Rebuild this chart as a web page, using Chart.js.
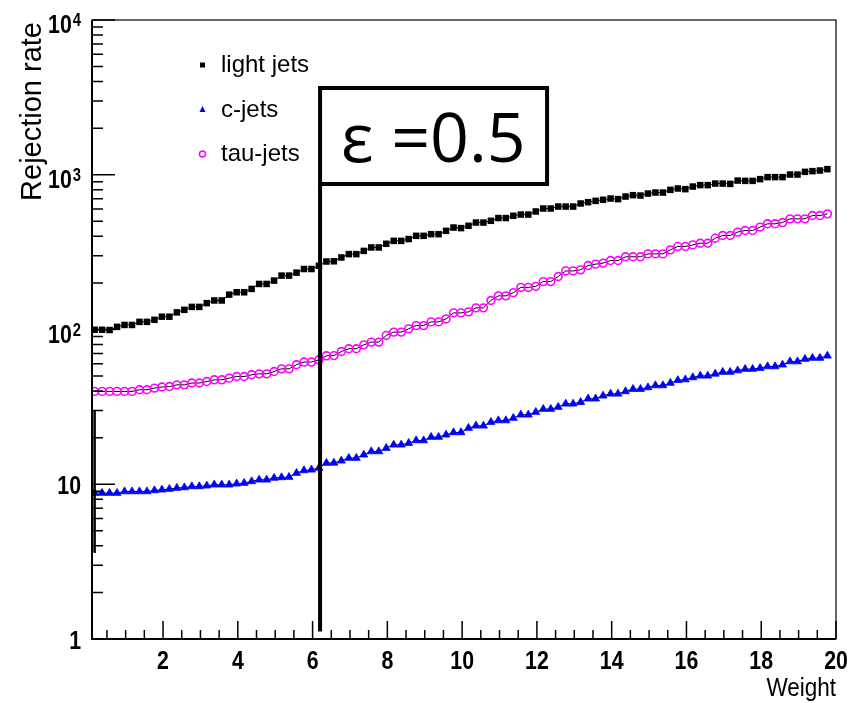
<!DOCTYPE html>
<html>
<head>
<meta charset="utf-8">
<script src="https://cdn.jsdelivr.net/npm/chart.js@4/dist/chart.umd.min.js"></script>
<style>
  html, body { margin: 0; padding: 0; background: #fff; }
  canvas { display: block; }
</style>
</head>
<body>
<canvas id="chart" width="853" height="703"></canvas>
<script>
// rejection rate per weight bin
const lightJets = [
  99.6, 99.6, 99.2, 104, 107, 107, 112, 112, 115.5, 121, 121, 129, 134, 140, 140, 148, 154, 154,
  168, 174, 174, 183, 197, 197, 207, 223, 223, 233, 246, 246, 258, 275, 276,
  292, 307, 307, 322, 339, 339, 358, 374, 374, 384, 403, 403, 413, 413, 434, 456, 452, 468,
  491, 491, 504, 525, 525, 543, 553, 553, 579, 605, 605, 623, 623, 623,
  652, 665, 678, 689, 702, 696, 723, 738, 734, 756, 767, 767, 799, 815, 807, 839, 857, 857,
  877, 877, 873, 917, 913, 913, 937, 965, 965, 965, 1003, 1003, 1044, 1055, 1065, 1087
];
const cJets = [
  8.77, 8.77, 8.77, 8.77, 8.98, 8.98, 8.98, 8.98, 9.12, 9.21, 9.31, 9.45, 9.53, 9.68, 9.68, 9.78,
  9.93, 9.93, 9.93, 10.08, 10.18, 10.43, 10.69, 10.69, 10.97, 11.07, 11.13, 11.81, 12.28, 12.41,
  12.73, 13.71, 13.75,
  14.18, 14.77, 14.77, 15.51, 16.29, 16.29, 17.13, 17.99, 17.99, 18.45, 19.18, 19.18, 20.18, 20.18,
  20.88, 21.61, 21.61, 23.07, 23.87, 23.87, 25.22, 25.83, 25.83, 26.77, 28.12, 28.12, 29.27,
  30.61, 30.61, 31.53, 33.11, 33.11, 33.9,
  35.7, 35.7, 37.3, 38.4, 38.4, 39.8, 41.2, 41.2, 42.2, 43.5, 43.5, 45.1,
  47, 47.5, 49, 50.2, 50.2, 51.7, 53.1, 53.1, 54.3, 55.5, 55.5, 56.3, 57.7, 57.7, 59.2, 62.1,
  62.1, 64.4, 65.4, 65.4, 67.6
];
const tauJets = [
  39.8, 39.8, 39.8, 39.8, 39.8, 39.8, 40.8, 40.8, 41.8, 42.5, 42.8, 43.9, 43.9, 45.1, 45.1, 46.1,
  47.3, 47.3, 48.5, 49.7, 49.7, 51.0, 51.7, 51.7, 53.5, 55.7, 55.7, 59.2, 61.6, 61.6, 63.7, 67.6, 67.8,
  72.1, 75.1, 75.1, 79.6, 82.9, 82.9, 91.5, 96.2, 96.2, 101, 106, 106, 112, 112, 117, 128, 128,
  130, 138, 138, 154, 165, 165, 173, 187, 187, 190, 204, 204, 220, 239, 239, 243,
  259, 264.5, 268.5, 279, 279, 295, 295, 295, 308, 308, 308, 327, 344, 344, 352, 361, 361, 389,
  405, 405, 426, 436, 436, 459, 482, 482, 491, 519, 519, 519, 545, 545, 559
];
// histogram bin centres (0.2 wide bins)
const weights = lightJets.map((_, i) => Math.round((0.17 + 0.2 * i) * 100) / 100);

// error bar on the first c-jets bin (low, high)
const cJetsFirstErr = [3.6, 30];

const xTickValues = [2, 4, 6, 8, 10, 12, 14, 16, 18, 20];
const yTickValues = [1, 10, 100, 1000, 10000];
const yTickBase = ['1', '10', '10', '10', '10'];
const yTickExp = ['', '', '2', '3', '4'];

const legendLabels = ['light jets', 'c-jets', 'tau-jets'];
const xTitle = 'Weight';
const yTitle = 'Rejection rate';
const cutWeight = 6.2;
const cutLow = 1.12;
const effLabel = 'ε =0.5';

const FONT = "'Liberation Sans', Arial, Helvetica, sans-serif";

function drawText(ctx, text, x, y, font, align, sx) {
  ctx.save();
  ctx.translate(x, y);
  ctx.scale(sx, 1);
  ctx.font = font;
  ctx.textAlign = align;
  ctx.textBaseline = 'alphabetic';
  ctx.fillStyle = '#000';
  ctx.fillText(text, 0, 0);
  ctx.restore();
}

function drawMarker(ctx, style, x, y, s) {
  ctx.save();
  ctx.beginPath();
  if (style === 'rect') {
    ctx.fillStyle = '#000';
    ctx.fillRect(x - s / 2, y - s / 2, s, s);
  } else if (style === 'triangle') {
    ctx.fillStyle = '#0000ff';
    ctx.moveTo(x, y - s * 0.6);
    ctx.lineTo(x + s / 2, y + s * 0.4);
    ctx.lineTo(x - s / 2, y + s * 0.4);
    ctx.closePath();
    ctx.fill();
  } else {
    ctx.strokeStyle = '#ff00ff';
    ctx.lineWidth = 1.5;
    ctx.arc(x, y, s / 2, 0, Math.PI * 2);
    ctx.stroke();
  }
  ctx.restore();
}

const rootFrame = {
  id: 'rootFrame',
  afterDatasetsDraw(chart) {
    const { ctx, chartArea: a, scales } = chart;
    const xs = scales.x;
    const ys = scales.y;
    ctx.save();
    ctx.strokeStyle = '#000';
    ctx.lineCap = 'butt';

    // frame
    ctx.lineWidth = 1.2;
    ctx.strokeRect(a.left, a.top, a.right - a.left, a.bottom - a.top);
    ctx.lineWidth = 2;
    ctx.beginPath();
    ctx.moveTo(a.left, a.top);
    ctx.lineTo(a.left, a.bottom);
    ctx.lineTo(a.right, a.bottom);
    ctx.stroke();

    // y ticks (log, inward)
    ctx.lineWidth = 1.5;
    ctx.beginPath();
    for (let d = 0; d < yTickValues.length; d++) {
      const base = yTickValues[d];
      const py = ys.getPixelForValue(base);
      ctx.moveTo(a.left, py);
      ctx.lineTo(a.left + 23, py);
      if (d < yTickValues.length - 1) {
        for (let m = 2; m <= 9; m++) {
          const my = ys.getPixelForValue(base * m);
          ctx.moveTo(a.left, my);
          ctx.lineTo(a.left + 11, my);
        }
      }
    }
    // x ticks
    for (let v = 0.5; v <= 20.001; v += 0.5) {
      const px = xs.getPixelForValue(v);
      const major = Math.abs(v / 2 - Math.round(v / 2)) < 1e-6;
      ctx.moveTo(px, a.bottom);
      ctx.lineTo(px, a.bottom - (major ? 18 : 9));
    }
    ctx.stroke();

    // first-bin error bar
    const ex = xs.getPixelForValue(weights[0]);
    ctx.lineWidth = 2.5;
    ctx.beginPath();
    ctx.moveTo(ex, ys.getPixelForValue(cJetsFirstErr[0]));
    ctx.lineTo(ex, ys.getPixelForValue(cJetsFirstErr[1]));
    ctx.stroke();

    // x tick labels
    xTickValues.forEach((v) => {
      const px = xs.getPixelForValue(v);
      drawText(ctx, String(v), px, a.bottom + 30, 'bold 26px ' + FONT, 'center', 0.82);
    });

    // y tick labels with exponents
    const labelRight = a.left - 11;
    yTickValues.forEach((v, i) => {
      const py = ys.getPixelForValue(v);
      if (yTickExp[i]) {
        ctx.save();
        ctx.font = 'bold 18px ' + FONT;
        const ew = ctx.measureText(yTickExp[i]).width * 0.82;
        ctx.restore();
        drawText(ctx, yTickExp[i], labelRight, py + 6, 'bold 18px ' + FONT, 'right', 0.82);
        drawText(ctx, yTickBase[i], labelRight - ew - 1, py + 13, 'bold 26px ' + FONT, 'right', 0.82);
      } else {
        drawText(ctx, yTickBase[i], labelRight, py + 10, 'bold 26px ' + FONT, 'right', 0.82);
      }
    });

    // axis titles
    drawText(ctx, xTitle, a.right, a.bottom + 57, '25px ' + FONT, 'right', 0.9);
    ctx.save();
    ctx.translate(41, a.top + 2);
    ctx.rotate(-Math.PI / 2);
    ctx.font = '29px ' + FONT;
    ctx.textAlign = 'right';
    ctx.fillStyle = '#000';
    ctx.fillText(yTitle, 0, 0);
    ctx.restore();

    // legend
    const styles = ['rect', 'triangle', 'circle'];
    const sizes = [5, 6, 6];
    legendLabels.forEach((lab, i) => {
      const ly = a.top + 45 + i * 44.5;
      drawMarker(ctx, styles[i], 202.5, ly, sizes[i]);
      drawText(ctx, lab, 221, ly + 7, '24px ' + FONT, 'left', 1);
    });

    // cut line and efficiency box
    const cx = xs.getPixelForValue(cutWeight);
    const boxTop = a.top + 68;
    const boxBottom = a.top + 164;
    ctx.lineWidth = 4;
    ctx.beginPath();
    ctx.moveTo(cx, boxBottom);
    ctx.lineTo(cx, ys.getPixelForValue(cutLow));
    ctx.stroke();
    ctx.fillStyle = '#fff';
    ctx.fillRect(cx, boxTop, 227, boxBottom - boxTop);
    ctx.strokeRect(cx, boxTop, 227, boxBottom - boxTop);
    ctx.fillStyle = '#000';
    ctx.font = "68px 'Open Sans', 'DejaVu Sans', sans-serif";
    ctx.textAlign = 'left';
    ctx.textBaseline = 'alphabetic';
    ctx.fillText(effLabel, cx + 21, boxBottom - 22);

    ctx.restore();
  }
};

const lineStyle = {
  borderColor: '#000',
  borderWidth: 1,
  tension: 0,
  fill: false
};

new Chart(document.getElementById('chart'), {
  type: 'line',
  data: {
    labels: weights,
    datasets: [
      {
        ...lineStyle,
        label: legendLabels[0],
        data: weights.map((w, i) => ({ x: w, y: lightJets[i] })),
        pointStyle: 'rect',
        pointRadius: 4.6,
        pointBackgroundColor: '#000',
        pointBorderColor: '#000',
        pointBorderWidth: 0
      },
      {
        ...lineStyle,
        label: legendLabels[1],
        data: weights.map((w, i) => ({ x: w, y: cJets[i] })),
        pointStyle: 'triangle',
        pointRadius: 4.6,
        pointBackgroundColor: '#0000ff',
        pointBorderColor: '#0000ff',
        pointBorderWidth: 0.8
      },
      {
        ...lineStyle,
        label: legendLabels[2],
        data: weights.map((w, i) => ({ x: w, y: tauJets[i] })),
        pointStyle: 'circle',
        pointRadius: 3.9,
        pointBackgroundColor: 'rgba(0,0,0,0)',
        pointBorderColor: '#ff00ff',
        pointBorderWidth: 1.6
      }
    ]
  },
  options: {
    responsive: false,
    animation: false,
    events: [],
    layout: { padding: { left: 92, right: 17, top: 20, bottom: 64 } },
    scales: {
      x: { type: 'linear', min: 0.1, max: 20, display: false },
      y: { type: 'logarithmic', min: 1, max: 10000, display: false }
    },
    plugins: {
      legend: { display: false },
      tooltip: { enabled: false }
    }
  },
  plugins: [rootFrame]
});
</script>
</body>
</html>
